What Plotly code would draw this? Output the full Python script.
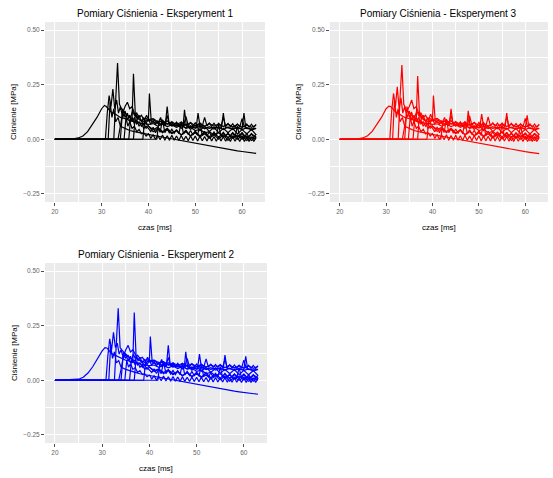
import plotly.graph_objects as go

# ---------------- data (time in ms, pressure in MPa) ----------------
TAIL = [41, 42, 43, 44, 45, 46, 47, 48, 49, 50, 51, 52, 53, 54, 55, 56, 57, 58, 59, 60, 61, 62, 63]
TAILH = [40, 40.5, 41, 41.5, 42, 42.5, 43, 43.5, 44, 44.5, 45, 45.5, 46, 46.5, 47, 47.5, 48, 48.5,
         49, 49.5, 50, 50.5, 51, 51.5, 52, 52.5, 53, 53.5, 54, 54.5, 55, 55.5, 56, 56.5, 57, 57.5,
         58, 58.5, 59, 59.5, 60, 60.5, 61, 61.5, 62, 62.5, 63]

T1 = [20, 24, 25, 26, 27, 28, 29, 30, 30.6, 31, 32, 33, 34, 35, 36, 37, 38, 39, 40] + TAIL
T2 = [20, 32.6, 33.0, 33.4, 33.8, 34.5, 35.5, 36.5, 36.8, 37.2, 38.2, 39.2, 40.0, 40.2, 40.6,
      41.5, 42.5, 43.6, 44.0, 44.4, 45.5, 46.5, 47.4, 47.7, 48.1, 49, 50.2, 50.6, 51, 52,
      53, 54, 55.6, 56, 56.4, 57.5, 58.5, 60.0, 60.4, 60.8, 62, 63]
T3 = [20, 30.8, 31.2, 31.6, 32.0, 32.4, 32.8, 33.2, 33.6, 34.0, 34.5, 35.0, 35.5, 36, 36.5,
      37, 37.5, 38, 38.5, 39, 39.5, 40] + TAIL
T4 = [20, 33.5, 34, 34.5, 35, 35.5, 36, 36.5, 37, 37.5, 38, 38.5, 39, 39.5, 40] + TAIL
T5 = [20, 31.4, 31.8, 32.2, 32.6, 33, 33.5, 34, 35, 36, 37, 38, 39, 40] + TAIL
T6 = [20, 35.8, 36.2, 36.6, 37, 37.5, 38, 38.5, 39, 39.5, 40] + TAIL
T7 = [20, 38.8, 39.2, 39.6, 40] + TAIL
T8 = [20, 41.8, 42.2, 42.6, 43, 44, 45, 46, 47, 48, 49, 50, 51, 52, 53, 54, 55, 56, 57, 58,
      59, 60, 61, 62, 63]
T9 = [20, 34, 34.5, 35, 35.5, 36, 36.5, 37, 37.5, 38, 38.5, 39, 39.5] + TAILH
T10 = [20, 36.8, 37.2, 37.6, 38, 38.5, 39, 39.5] + TAILH
T11 = [20, 34.8, 35.2, 35.6, 36, 36.5, 37, 37.5, 38, 38.5, 39, 39.5] + TAILH

# Experiment 1
E1_C1 = [0, 0.002, 0.006, 0.015, 0.035, 0.065, 0.10, 0.14, 0.155, 0.15, 0.125, 0.115, 0.10, 0.095,
         0.085, 0.082, 0.075, 0.072, 0.068,
         0.072, 0.060, 0.070, 0.058, 0.066, 0.055, 0.064, 0.052, 0.062, 0.050, 0.060, 0.048, 0.058,
         0.047, 0.057, 0.045, 0.056, 0.044, 0.055, 0.043, 0.054, 0.042, 0.050]
E1_C2 = [0, 0, 0.18, 0.35, 0.16, 0.13, 0.11, 0.09, 0.30, 0.11, 0.09, 0.08, 0.09, 0.21, 0.08,
         0.075, 0.07, 0.065, 0.15, 0.07, 0.065, 0.062, 0.06, 0.135, 0.06, 0.058, 0.055, 0.12, 0.06,
         0.055, 0.05, 0.055, 0.05, 0.12, 0.055, 0.05, 0.052, 0.05, 0.12, 0.05, 0.048, 0.05]
E1_C3 = [0, 0, 0.12, 0.20, 0.15, 0.23, 0.14, 0.18, 0.12, 0.15, 0.10, 0.13, 0.09, 0.11, 0.08,
         0.10, 0.07, 0.08, 0.06, 0.07, 0.05, 0.06,
         0.035, 0.05, 0.03, 0.045, 0.025, 0.04, 0.02, 0.04, 0.015, 0.035, 0.015, 0.035, 0.01,
         0.03, 0.01, 0.03, 0.005, 0.03, 0.01, 0.03, 0.005, 0.025, 0.01]
E1_C4 = [0, 0, 0.06, 0.12, 0.15, 0.17, 0.14, 0.15, 0.12, 0.11, 0.09, 0.085, 0.07, 0.075, 0.06,
         0.045, 0.055, 0.035, 0.05, 0.03, 0.04, 0.02, 0.035, 0.015, 0.03, 0.01, 0.025, 0.005,
         0.02, 0.0, 0.02, -0.005, 0.015, 0.0, 0.015, -0.005, 0.01, 0.0]
E1_C5 = [0, 0, 0.17, 0.10, 0.14, 0.08, 0.10, 0.06, 0.05, 0.04, 0.035, 0.03, 0.025, 0.02,
         0.018, 0.014, 0.010, 0.006, 0.002, -0.003, -0.008, -0.012, -0.016, -0.020, -0.024,
         -0.028, -0.032, -0.036, -0.040, -0.043, -0.046, -0.050, -0.053, -0.056, -0.059,
         -0.062, -0.065]
E1_C6 = [0, 0, 0.10, 0.13, 0.11, 0.12, 0.10, 0.11, 0.09, 0.095, 0.085,
         0.09, 0.075, 0.085, 0.07, 0.08, 0.068, 0.078, 0.065, 0.076, 0.062, 0.074, 0.06, 0.072,
         0.06, 0.07, 0.058, 0.07, 0.056, 0.068, 0.055, 0.066, 0.055, 0.064]
E1_C7 = [0, 0, 0.09, 0.11, 0.09,
         0.095, 0.08, 0.085, 0.07, 0.075, 0.06, 0.065, 0.05, 0.055, 0.04, 0.045, 0.03, 0.035,
         0.02, 0.03, 0.01, 0.025, 0.005, 0.02, 0.0, 0.015, -0.005, 0.01]
E1_C8 = [0, 0, 0.08, 0.10, 0.07,
         0.085, 0.06, 0.075, 0.05, 0.07, 0.045, 0.065, 0.04, 0.06, 0.035, 0.055, 0.03, 0.05,
         0.03, 0.05, 0.025, 0.045, 0.025, 0.045, 0.02]
E1_C9 = [0, 0, 0.14, 0.10, 0.12, 0.08, 0.10, 0.07, 0.09, 0.06, 0.075, 0.05, 0.06,
         0.05, 0.035, 0.055, 0.03, 0.05, 0.032, 0.09, 0.03, 0.048, 0.028,
         0.046, 0.027, 0.045, 0.025, 0.08, 0.024, 0.042, 0.022, 0.04, 0.02,
         0.038, 0.019, 0.07, 0.018, 0.036, 0.016, 0.034, 0.015, 0.033, 0.014,
         0.065, 0.013, 0.031, 0.012, 0.03, 0.011, 0.029, 0.01, 0.06, 0.01,
         0.028, 0.009, 0.027, 0.008, 0.026, 0.008, 0.025]
E1_C10 = [0, 0, 0.12, 0.09, 0.11, 0.08, 0.1, 0.075,
          0.09, 0.07, 0.085, 0.068, 0.083, 0.066, 0.082, 0.065, 0.11, 0.066,
          0.08, 0.064, 0.079, 0.063, 0.078, 0.062, 0.105, 0.063, 0.077, 0.061,
          0.076, 0.06, 0.075, 0.06, 0.1, 0.06, 0.074, 0.059, 0.073, 0.058,
          0.073, 0.058, 0.1, 0.058, 0.072, 0.057, 0.071, 0.056, 0.07, 0.056,
          0.095, 0.056, 0.07, 0.055, 0.069, 0.055, 0.068]
E1_C11 = [0, 0, 0.10, 0.06, 0.08, 0.05, 0.06, 0.035, 0.045, 0.025, 0.03, 0.015,
          0.025, 0.005, 0.02, 0.0, 0.018, -0.002, 0.02, -0.004, 0.016, -0.005,
          0.018, -0.004, 0.015, -0.006, 0.017, -0.005, 0.014, -0.007, 0.016, -0.006,
          0.015, -0.008, 0.014, -0.007, 0.013, -0.008, 0.015, -0.008, 0.013, -0.009,
          0.014, -0.008, 0.012, -0.009, 0.013, -0.01, 0.012, -0.009, 0.011, -0.01,
          0.012, -0.01, 0.011, -0.01, 0.01, -0.01, 0.008]

# Experiment 2
E2_C1 = [0, 0.002, 0.005, 0.014, 0.033, 0.062, 0.098, 0.135, 0.15, 0.148, 0.122, 0.112, 0.10, 0.092,
         0.086, 0.08, 0.076, 0.07, 0.067,
         0.07, 0.059, 0.068, 0.057, 0.066, 0.054, 0.063, 0.052, 0.061, 0.05, 0.06, 0.049, 0.058,
         0.047, 0.056, 0.046, 0.055, 0.045, 0.054, 0.044, 0.053, 0.042, 0.05]
E2_C2 = [0, 0, 0.17, 0.33, 0.15, 0.13, 0.11, 0.09, 0.31, 0.10, 0.09, 0.08, 0.09, 0.20, 0.08,
         0.075, 0.07, 0.065, 0.16, 0.07, 0.065, 0.062, 0.06, 0.13, 0.06, 0.058, 0.055, 0.12, 0.06,
         0.055, 0.05, 0.055, 0.05, 0.115, 0.055, 0.05, 0.052, 0.05, 0.11, 0.05, 0.048, 0.05]
E2_C3 = [0, 0, 0.11, 0.19, 0.14, 0.22, 0.15, 0.17, 0.12, 0.14, 0.10, 0.12, 0.09, 0.11, 0.08,
         0.095, 0.07, 0.08, 0.06, 0.07, 0.05, 0.06,
         0.04, 0.05, 0.03, 0.045, 0.025, 0.04, 0.02, 0.038, 0.018, 0.035, 0.015, 0.033, 0.012,
         0.03, 0.01, 0.03, 0.008, 0.028, 0.01, 0.028, 0.006, 0.025, 0.01]
E2_C4 = [0, 0, 0.05, 0.11, 0.14, 0.16, 0.13, 0.14, 0.12, 0.10, 0.09, 0.08, 0.07, 0.072, 0.06,
         0.045, 0.052, 0.036, 0.048, 0.03, 0.04, 0.022, 0.034, 0.016, 0.03, 0.012, 0.024, 0.006,
         0.02, 0.002, 0.018, -0.004, 0.014, 0.0, 0.014, -0.004, 0.01, 0.0]
E2_C5 = [0, 0, 0.16, 0.10, 0.13, 0.08, 0.09, 0.06, 0.05, 0.042, 0.036, 0.03, 0.026, 0.02,
         0.017, 0.013, 0.009, 0.005, 0.001, -0.004, -0.009, -0.013, -0.017, -0.021, -0.025,
         -0.029, -0.033, -0.036, -0.04, -0.043, -0.046, -0.05, -0.053, -0.056, -0.059,
         -0.062, -0.064]
E2_C6 = [0, 0, 0.09, 0.12, 0.10, 0.115, 0.10, 0.105, 0.09, 0.095, 0.085,
         0.088, 0.076, 0.084, 0.071, 0.08, 0.068, 0.077, 0.066, 0.075, 0.063, 0.073, 0.061, 0.071,
         0.06, 0.07, 0.058, 0.069, 0.057, 0.067, 0.056, 0.066, 0.055, 0.063]
E2_C7 = [0, 0, 0.085, 0.105, 0.09,
         0.092, 0.08, 0.084, 0.07, 0.074, 0.061, 0.064, 0.051, 0.055, 0.041, 0.046, 0.031, 0.036,
         0.022, 0.03, 0.012, 0.025, 0.006, 0.02, 0.001, 0.016, -0.004, 0.01]
E2_C8 = [0, 0, 0.075, 0.095, 0.07,
         0.08, 0.06, 0.074, 0.052, 0.068, 0.046, 0.064, 0.041, 0.06, 0.036, 0.055, 0.032, 0.05,
         0.03, 0.049, 0.026, 0.046, 0.025, 0.044, 0.022]
E2_C9 = [0, 0, 0.13, 0.10, 0.115, 0.08, 0.095, 0.07, 0.085, 0.06, 0.07, 0.05, 0.058,
         0.048, 0.036, 0.053, 0.031, 0.05, 0.03, 0.085, 0.03, 0.047, 0.028,
         0.045, 0.026, 0.044, 0.025, 0.078, 0.024, 0.041, 0.022, 0.04, 0.021,
         0.037, 0.019, 0.068, 0.018, 0.035, 0.017, 0.034, 0.015, 0.032, 0.014,
         0.062, 0.013, 0.031, 0.012, 0.03, 0.011, 0.028, 0.011, 0.058, 0.01,
         0.027, 0.009, 0.026, 0.009, 0.025, 0.008, 0.024]
E2_C10 = [0, 0, 0.11, 0.09, 0.105, 0.08, 0.095, 0.074,
          0.088, 0.07, 0.084, 0.067, 0.082, 0.066, 0.08, 0.065, 0.105, 0.065,
          0.079, 0.064, 0.078, 0.062, 0.077, 0.062, 0.1, 0.062, 0.076, 0.061,
          0.075, 0.06, 0.074, 0.059, 0.098, 0.059, 0.073, 0.058, 0.072, 0.058,
          0.072, 0.057, 0.096, 0.057, 0.071, 0.056, 0.07, 0.056, 0.069, 0.055,
          0.092, 0.055, 0.069, 0.054, 0.068, 0.054, 0.067]
E2_C11 = [0, 0, 0.09, 0.06, 0.075, 0.05, 0.058, 0.036, 0.044, 0.026, 0.03, 0.016,
          0.024, 0.006, 0.02, 0.001, 0.018, -0.002, 0.019, -0.003, 0.016, -0.004,
          0.017, -0.004, 0.015, -0.005, 0.016, -0.005, 0.014, -0.006, 0.015, -0.006,
          0.014, -0.007, 0.014, -0.007, 0.013, -0.008, 0.014, -0.008, 0.013, -0.008,
          0.013, -0.008, 0.012, -0.009, 0.012, -0.009, 0.012, -0.009, 0.011, -0.01,
          0.011, -0.01, 0.011, -0.01, 0.01, -0.01, 0.009]

# Experiment 3
E3_C1 = [0, 0.002, 0.006, 0.016, 0.036, 0.066, 0.10, 0.14, 0.152, 0.15, 0.126, 0.113, 0.10, 0.094,
         0.086, 0.081, 0.075, 0.071, 0.068,
         0.071, 0.06, 0.069, 0.058, 0.067, 0.055, 0.065, 0.053, 0.062, 0.051, 0.06, 0.049, 0.058,
         0.048, 0.057, 0.046, 0.056, 0.045, 0.055, 0.044, 0.053, 0.043, 0.05]
E3_C2 = [0, 0, 0.19, 0.34, 0.16, 0.13, 0.11, 0.09, 0.29, 0.11, 0.09, 0.08, 0.09, 0.20, 0.08,
         0.075, 0.07, 0.065, 0.14, 0.07, 0.065, 0.062, 0.06, 0.13, 0.06, 0.058, 0.055, 0.115, 0.06,
         0.055, 0.05, 0.055, 0.05, 0.12, 0.055, 0.05, 0.052, 0.05, 0.11, 0.05, 0.048, 0.05]
E3_C3 = [0, 0, 0.13, 0.21, 0.15, 0.24, 0.14, 0.19, 0.12, 0.15, 0.10, 0.13, 0.09, 0.11, 0.08,
         0.10, 0.07, 0.08, 0.06, 0.07, 0.05, 0.06,
         0.036, 0.05, 0.03, 0.046, 0.026, 0.042, 0.021, 0.04, 0.016, 0.036, 0.014, 0.034, 0.011,
         0.031, 0.01, 0.03, 0.006, 0.029, 0.01, 0.028, 0.005, 0.026, 0.01]
E3_C4 = [0, 0, 0.06, 0.13, 0.15, 0.18, 0.14, 0.15, 0.12, 0.11, 0.09, 0.085, 0.07, 0.074, 0.06,
         0.046, 0.054, 0.036, 0.05, 0.03, 0.042, 0.02, 0.035, 0.016, 0.03, 0.011, 0.025, 0.006,
         0.021, 0.001, 0.019, -0.005, 0.015, 0.0, 0.014, -0.005, 0.011, 0.0]
E3_C5 = [0, 0, 0.18, 0.10, 0.14, 0.08, 0.10, 0.06, 0.05, 0.04, 0.035, 0.03, 0.025, 0.02,
         0.018, 0.014, 0.01, 0.006, 0.002, -0.003, -0.008, -0.012, -0.016, -0.02, -0.024,
         -0.028, -0.032, -0.036, -0.04, -0.043, -0.047, -0.05, -0.053, -0.057, -0.06,
         -0.063, -0.066]
E3_C6 = [0, 0, 0.10, 0.13, 0.11, 0.12, 0.10, 0.11, 0.09, 0.095, 0.085,
         0.09, 0.076, 0.086, 0.071, 0.08, 0.069, 0.078, 0.066, 0.076, 0.063, 0.074, 0.061, 0.072,
         0.06, 0.071, 0.058, 0.07, 0.057, 0.068, 0.056, 0.066, 0.055, 0.064]
E3_C7 = [0, 0, 0.09, 0.115, 0.09,
         0.096, 0.08, 0.086, 0.07, 0.076, 0.06, 0.066, 0.05, 0.056, 0.04, 0.046, 0.03, 0.036,
         0.02, 0.031, 0.01, 0.026, 0.005, 0.021, 0.0, 0.016, -0.005, 0.011]
E3_C8 = [0, 0, 0.08, 0.10, 0.07,
         0.086, 0.06, 0.076, 0.05, 0.07, 0.045, 0.066, 0.04, 0.061, 0.035, 0.056, 0.031, 0.051,
         0.03, 0.05, 0.026, 0.046, 0.025, 0.045, 0.02]
E3_C9 = [0, 0, 0.15, 0.10, 0.125, 0.08, 0.10, 0.07, 0.09, 0.06, 0.076, 0.05, 0.061,
         0.051, 0.034, 0.056, 0.03, 0.051, 0.031, 0.092, 0.03, 0.049, 0.028,
         0.047, 0.027, 0.046, 0.025, 0.082, 0.024, 0.043, 0.022, 0.041, 0.02,
         0.039, 0.019, 0.072, 0.018, 0.037, 0.016, 0.035, 0.015, 0.034, 0.014,
         0.066, 0.013, 0.032, 0.012, 0.031, 0.011, 0.03, 0.01, 0.061, 0.01,
         0.029, 0.009, 0.028, 0.008, 0.027, 0.008, 0.026]
E3_C10 = [0, 0, 0.125, 0.09, 0.11, 0.08, 0.1, 0.076,
          0.091, 0.07, 0.086, 0.068, 0.084, 0.066, 0.083, 0.065, 0.112, 0.066,
          0.081, 0.064, 0.08, 0.063, 0.079, 0.062, 0.107, 0.063, 0.078, 0.061,
          0.077, 0.06, 0.076, 0.06, 0.102, 0.06, 0.075, 0.059, 0.074, 0.058,
          0.074, 0.058, 0.101, 0.058, 0.073, 0.057, 0.072, 0.056, 0.071, 0.056,
          0.096, 0.056, 0.071, 0.055, 0.07, 0.055, 0.069]
E3_C11 = [0, 0, 0.105, 0.06, 0.082, 0.05, 0.061, 0.035, 0.046, 0.025, 0.031, 0.015,
          0.026, 0.005, 0.021, 0.0, 0.019, -0.002, 0.021, -0.004, 0.017, -0.005,
          0.019, -0.004, 0.016, -0.006, 0.018, -0.005, 0.015, -0.007, 0.017, -0.006,
          0.016, -0.008, 0.015, -0.007, 0.014, -0.008, 0.016, -0.008, 0.014, -0.009,
          0.015, -0.008, 0.013, -0.009, 0.014, -0.01, 0.013, -0.009, 0.012, -0.01,
          0.013, -0.01, 0.012, -0.01, 0.011, -0.01, 0.009]

TIMES = [T1, T2, T3, T4, T5, T6, T7, T8, T9, T10, T11]
EXP1 = [E1_C1, E1_C2, E1_C3, E1_C4, E1_C5, E1_C6, E1_C7, E1_C8, E1_C9, E1_C10, E1_C11]
EXP2 = [E2_C1, E2_C2, E2_C3, E2_C4, E2_C5, E2_C6, E2_C7, E2_C8, E2_C9, E2_C10, E2_C11]
EXP3 = [E3_C1, E3_C2, E3_C3, E3_C4, E3_C5, E3_C6, E3_C7, E3_C8, E3_C9, E3_C10, E3_C11]

TITLES = ["Pomiary Ciśnienia - Eksperyment 1",
          "Pomiary Ciśnienia - Eksperyment 3",
          "Pomiary Ciśnienia - Eksperyment 2"]
X_TITLE = "czas [ms]"
Y_TITLE = "Ciśnienie [MPa]"

# ---------------- figure ----------------
W, H = 553, 478
fig = go.Figure()

panels = [
    (EXP1, "#000000", "x", "y", (45, 265), (22, 202), TITLES[0]),
    (EXP3, "#FF0000", "x2", "y2", (330, 548), (22, 202), TITLES[1]),
    (EXP2, "#0000FF", "x3", "y3", (45, 267), (263, 443), TITLES[2]),
]

FONT = "Liberation Sans, Arial, sans-serif"
annotations = []
for data, color, xa, ya, (x0, x1), (yt, yb), title in panels:
    for t, p in zip(TIMES, data):
        n = min(len(t), len(p))
        fig.add_trace(go.Scatter(x=t[:n], y=p[:n], mode="lines", xaxis=xa, yaxis=ya,
                                 line=dict(color=color, width=1.2), showlegend=False,
                                 hoverinfo="skip"))
    xkey = "xaxis" if xa == "x" else "xaxis" + xa[1:]
    ykey = "yaxis" if ya == "y" else "yaxis" + ya[1:]
    common = dict(showline=False, zeroline=False, showgrid=True, gridcolor="white",
                  gridwidth=1, ticks="outside", ticklen=3, tickwidth=0.8,
                  tickcolor="#4D4D4D", tickfont=dict(family=FONT, size=6.5, color="#666666"))
    fig.update_layout(**{
        xkey: dict(domain=[x0 / W, x1 / W], anchor=ya, range=[17.9, 64.9],
                   tick0=20, dtick=10,
                   minor=dict(dtick=5, showgrid=True, gridcolor="white", gridwidth=0.5),
                   **common),
        ykey: dict(domain=[1 - yb / H, 1 - yt / H], anchor=xa, range=[-0.2875, 0.5375],
                   tick0=0, dtick=0.25, tickformat=".2f",
                   minor=dict(dtick=0.125, showgrid=True, gridcolor="white", gridwidth=0.5),
                   **common),
    })
    fig.add_shape(type="rect", xref="paper", yref="paper", layer="below",
                  x0=x0 / W, x1=x1 / W, y0=1 - yb / H, y1=1 - yt / H,
                  fillcolor="#EBEBEB", line=dict(width=0))
    cx = (x0 + x1) / 2
    annotations.append(dict(text=title, x=cx / W, y=1 - (yt - 9) / H, xref="paper", yref="paper",
                            showarrow=False, font=dict(family=FONT, size=10, color="#000000"),
                            xanchor="center", yanchor="middle"))
    annotations.append(dict(text=X_TITLE, x=cx / W, y=1 - (yb + 25) / H, xref="paper",
                            yref="paper", showarrow=False,
                            font=dict(family=FONT, size=8, color="#000000"),
                            xanchor="center", yanchor="middle"))
    annotations.append(dict(text=Y_TITLE, x=(x0 - 31) / W, y=1 - ((yt + yb) / 2) / H,
                            xref="paper", yref="paper", showarrow=False, textangle=-90,
                            font=dict(family=FONT, size=8, color="#000000"),
                            xanchor="center", yanchor="middle"))

fig.update_layout(width=W, height=H, margin=dict(l=0, r=0, t=0, b=0),
                  paper_bgcolor="white", plot_bgcolor="rgba(0,0,0,0)",
                  annotations=annotations, showlegend=False)

fig.write_html("out.html", config={"displayModeBar": False},
               post_script="document.body.style.margin='0';document.body.style.overflow='hidden';")
